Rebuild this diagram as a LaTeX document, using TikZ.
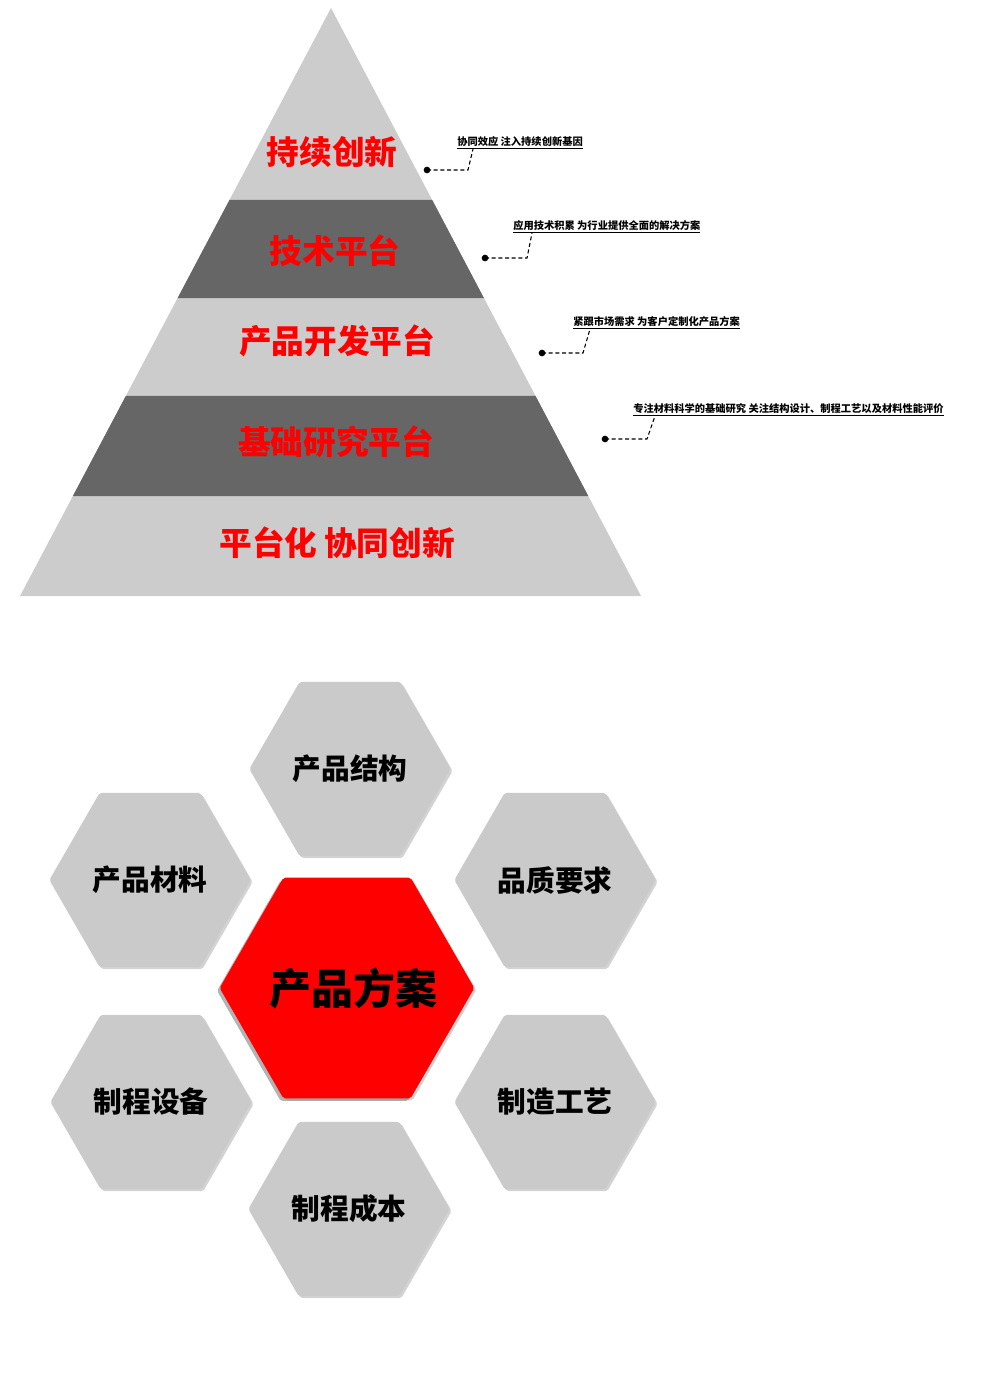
\documentclass[tikz,border=0pt]{standalone}
\usepackage{fontspec}
\newfontfamily\cjk{Noto Sans CJK SC}[BoldFont={Noto Sans CJK SC Black}]
\usetikzlibrary{positioning, calc, shapes.geometric, shadows}

\definecolor{pyrlight}{RGB}{204,204,204}
\definecolor{pyrdark}{RGB}{102,102,102}
\definecolor{hexgray}{RGB}{202,202,202}
\definecolor{brandred}{RGB}{255,0,0}

\tikzset{
  layerlabel/.style={font=\cjk\bfseries\fontsize{24.5}{28}\selectfont, text=brandred, inner sep=0pt},
  note/.style={font=\cjk\bfseries\fontsize{7.7}{9}\selectfont, anchor=base west, inner sep=0pt},
  leader/.style={densely dashed, thick, black},
  tipdot/.style={circle, fill=black, inner sep=0pt, minimum size=5pt},
  hexcell/.style={regular polygon, regular polygon sides=6, minimum size=151pt,
    fill=hexgray, rounded corners=1.5pt, inner sep=0pt,
    drop shadow={opacity=0.35, shadow xshift=1.5pt, shadow yshift=-1.5pt},
    font=\cjk\bfseries\fontsize{21.5}{25}\selectfont},
  hexhub/.style={hexcell, minimum size=191pt, fill=brandred,
    drop shadow={opacity=0.6, shadow xshift=-2pt, shadow yshift=-2pt},
    font=\cjk\bfseries\fontsize{31.5}{36}\selectfont},
}

\begin{document}
\begin{tikzpicture}[x=0.75pt, y=-0.75pt]
    \useasboundingbox (0,0) rectangle (1000,1374);

    % pyramid
    \coordinate (apex) at (331,8);
    \coordinate (baseL) at (20,596);
    \coordinate (baseR) at (641,596);
    \fill[pyrlight] (apex) -- (baseL) -- (baseR) -- cycle;
    \fill[pyrdark] ($(apex)!{192/588}!(baseL)$) -- ($(apex)!{290/588}!(baseL)$)
        -- ($(apex)!{290/588}!(baseR)$) -- ($(apex)!{192/588}!(baseR)$) -- cycle;
    \fill[pyrdark] ($(apex)!{388/588}!(baseL)$) -- ($(apex)!{488/588}!(baseL)$)
        -- ($(apex)!{488/588}!(baseR)$) -- ($(apex)!{388/588}!(baseR)$) -- cycle;

    \node[layerlabel] (lvl1) at (332,152) {持续创新};
    \node[layerlabel] (lvl2) at (335,251) {技术平台};
    \node[layerlabel] (lvl3) at (337,341) {产品开发平台};
    \node[layerlabel] (lvl4) at (336,442) {基础研究平台};
    \node[layerlabel] (lvl5) at (337,543) {平台化\hspace{5pt}协同创新};

    % notes
    \node[note] (note1) at (457,145) {\underline{协同效应 注入持续创新基因}};
    \node[note] (note2) at (513,229) {\underline{应用技术积累 为行业提供全面的解决方案}};
    \node[note] (note3) at (573,325) {\underline{紧跟市场需求 为客户定制化产品方案}};
    \node[note] (note4) at (633,412) {\underline{专注材料科学的基础研究 关注结构设计、制程工艺以及材料性能评价}};

    \node[tipdot] (dot1) at (427,170) {};
    \node[tipdot] (dot2) at (485,258) {};
    \node[tipdot] (dot3) at (542,353) {};
    \node[tipdot] (dot4) at (605,439) {};

    \draw[leader] (dot1.center) -- ++(41,0) -- ($(note1.south west)+(16,0)$);
    \draw[leader] (dot2.center) -- ++(42,0) -- ($(note2.south west)+(19,0)$);
    \draw[leader] (dot3.center) -- ++(41,0) -- ($(note3.south west)+(17,0)$);
    \draw[leader] (dot4.center) -- ++(42,0) -- ($(note4.south west)+(22,0)$);

    % hexagons
    \node[hexcell] (struct) at (350,769) {产品结构};
    \node[hexcell] (material) at (150,880) {产品材料};
    \node[hexcell] (quality) at (555,880) {品质要求};
    \node[hexcell] (equip) at (151,1102) {制程设备};
    \node[hexcell] (process) at (555,1102) {制造工艺};
    \node[hexcell] (cost) at (349,1209) {制程成本};
    \node[hexhub] (plan) at (347,988) {\makebox[0pt]{\hspace{10pt}产品方案}};
\end{tikzpicture}
\end{document}
